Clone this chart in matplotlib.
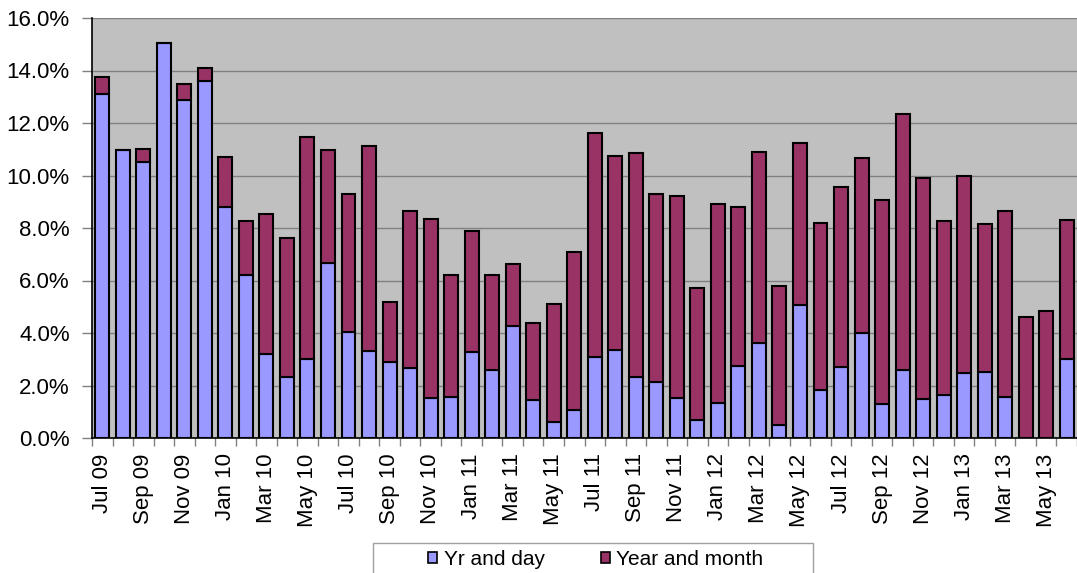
import matplotlib
matplotlib.use("Agg")
import matplotlib.pyplot as plt
import numpy as np
from matplotlib.ticker import FixedLocator, FuncFormatter
from matplotlib.patches import Rectangle

plt.rcParams['font.family'] = ['Liberation Sans', 'DejaVu Sans']

months = ["Jul 09", "Aug 09", "Sep 09", "Oct 09", "Nov 09", "Dec 09",
          "Jan 10", "Feb 10", "Mar 10", "Apr 10", "May 10", "Jun 10",
          "Jul 10", "Aug 10", "Sep 10", "Oct 10", "Nov 10", "Dec 10",
          "Jan 11", "Feb 11", "Mar 11", "Apr 11", "May 11", "Jun 11",
          "Jul 11", "Aug 11", "Sep 11", "Oct 11", "Nov 11", "Dec 11",
          "Jan 12", "Feb 12", "Mar 12", "Apr 12", "May 12", "Jun 12",
          "Jul 12", "Aug 12", "Sep 12", "Oct 12", "Nov 12", "Dec 12",
          "Jan 13", "Feb 13", "Mar 13", "Apr 13", "May 13", "Jun 13"]

yr_and_day = [13.10, 10.98, 10.50, 15.04, 12.89, 13.61,
              8.79, 6.20, 3.19, 2.33, 3.00, 6.68,
              4.05, 3.32, 2.88, 2.66, 1.51, 1.55,
              3.28, 2.58, 4.26, 1.46, 0.61, 1.08,
              3.09, 3.35, 2.33, 2.12, 1.53, 0.70,
              1.35, 2.74, 3.63, 0.51, 5.05, 1.81,
              2.72, 3.99, 1.28, 2.58, 1.50, 1.63,
              2.48, 2.51, 1.55, 0.00, 0.00, 3.02]

year_and_month = [0.64, 0.00, 0.50, 0.00, 0.60, 0.47,
                  1.90, 2.07, 5.36, 5.30, 8.45, 4.30,
                  5.26, 7.79, 2.32, 6.00, 6.82, 4.66,
                  4.61, 3.63, 2.37, 2.94, 4.48, 6.01,
                  8.54, 7.39, 8.52, 7.17, 7.69, 5.01,
                  7.56, 6.05, 7.27, 5.29, 6.18, 6.38,
                  6.86, 6.67, 7.80, 9.75, 8.42, 6.64,
                  7.52, 5.66, 7.10, 4.62, 4.85, 5.30]

y_ticks = [0, 2, 4, 6, 8, 10, 12, 14, 16]

W, H = 1077, 573
fig = plt.figure(figsize=(W/100, H/100), dpi=100)
ax = fig.add_axes([92/W, 1-438/H, 1-92/W, (438-18)/H])
ax.set_facecolor("#C0C0C0")

x = np.arange(len(months))
w = 0.68
ax.bar(x, yr_and_day, width=w, color="#9999FF", edgecolor="black",
       linewidth=1.5, label="Yr and day", zorder=3)
ax.bar(x, year_and_month, width=w, bottom=yr_and_day, color="#993366",
       edgecolor="black", linewidth=1.5, label="Year and month", zorder=3)

ax.set_xlim(-0.5, len(months) - 0.5)
ax.set_ylim(0, 16)
ax.yaxis.set_major_locator(FixedLocator(y_ticks))
ax.yaxis.set_major_formatter(FuncFormatter(lambda v, p: f"{v:.1f}%"))
ax.grid(axis="y", color="#808080", linewidth=1.0, zorder=1)
ax.set_axisbelow(True)

ax.set_xticks(x[::2])
ax.set_xticklabels(months[::2], rotation=90, fontsize=16)
ax.set_xticks(np.arange(len(months) + 1) - 0.5, minor=True)
ax.tick_params(axis="x", which="major", length=0, pad=11)
ax.tick_params(axis="x", which="minor", length=6, color="#808080", width=1)
ax.tick_params(axis="y", length=7, color="#808080", width=1, labelsize=16, pad=9)

for s in ["top", "right"]:
    ax.spines[s].set_visible(False)
ax.spines["left"].set_color("black")
ax.spines["bottom"].set_color("black")
ax.spines["left"].set_linewidth(1.2)
ax.spines["bottom"].set_linewidth(1.2)

# legend frame
fig.patches.append(Rectangle((373/W, -0.05), (813-373)/W, 0.05 + (573-543)/H,
                             transform=fig.transFigure, facecolor="white",
                             edgecolor="#A0A0A0", linewidth=1.0, zorder=1))

leg = fig.legend(loc="upper left", bbox_to_anchor=(428/W, 1-550/H),
                 ncol=2, fontsize=15, frameon=False,
                 handlelength=0.45, handleheight=0.45,
                 handletextpad=0.3, columnspacing=2.7, borderpad=0,
                 borderaxespad=0)
for h in leg.legend_handles:
    h.set_edgecolor("black")
    h.set_linewidth(1.2)
leg.set_zorder(5)

fig.savefig("out.png", dpi=100)
